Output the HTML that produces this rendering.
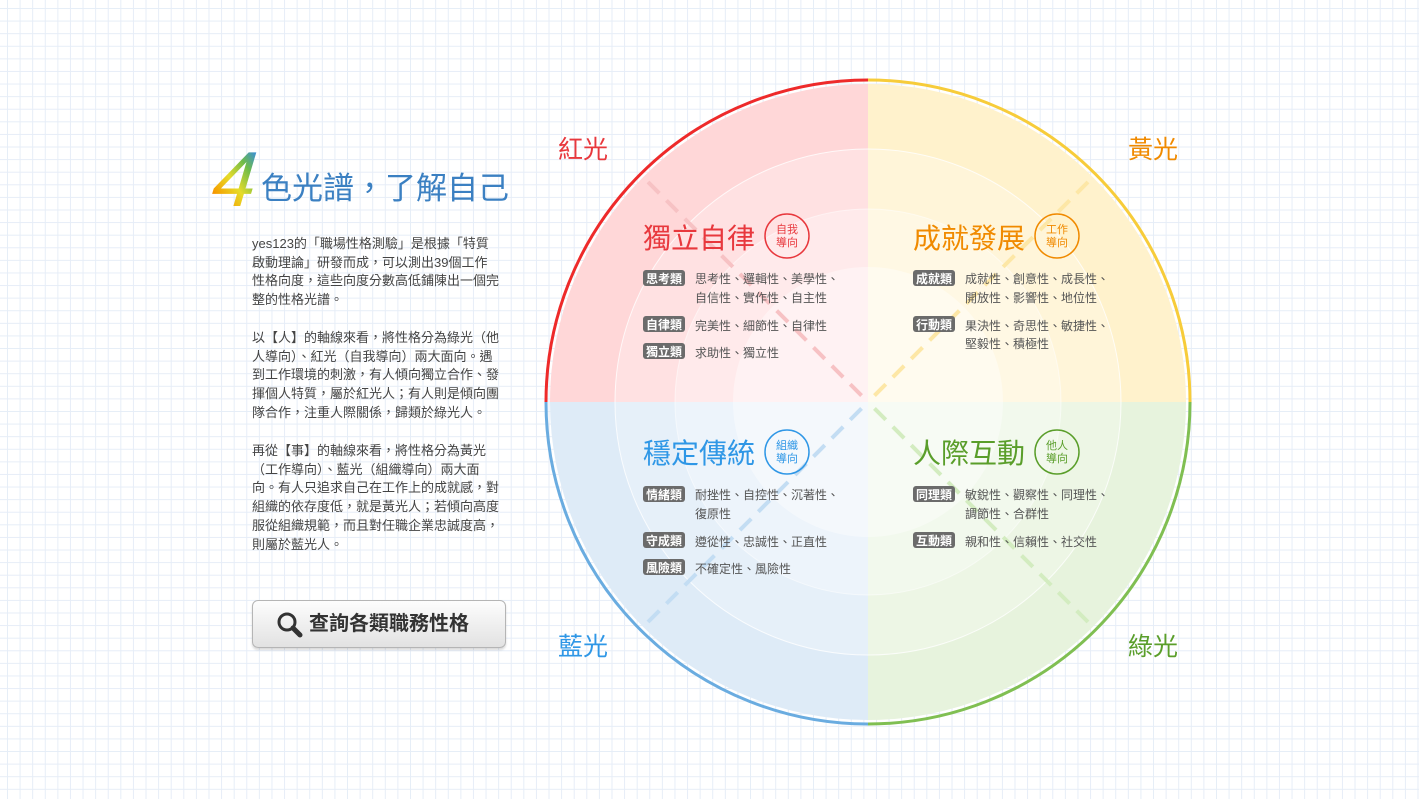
<!DOCTYPE html>
<html><head><meta charset="utf-8"><style>
html,body{margin:0;padding:0}
body{width:1419px;height:799px;overflow:hidden;position:relative;background-color:#fff;
background-image:linear-gradient(to right,#e6edf7 1px,transparent 1px),linear-gradient(to bottom,#e6edf7 1px,transparent 1px);
background-size:12.6px 12.6px;background-position:7px 8px;
font-family:"Liberation Sans","Noto Sans CJK TC",sans-serif;}
.txt{position:absolute;left:252px;width:262px;font-size:13px;line-height:18.7px;color:#444;}
.txt div{white-space:nowrap}
.btn{position:absolute;left:252px;top:600px;width:252px;height:46px;border:1px solid #b5b5b5;border-radius:6px;
background:linear-gradient(#fdfdfd,#e2e2e2);box-shadow:0 2px 2px rgba(0,0,0,.15);
font-size:20px;font-weight:bold;color:#333;line-height:46px;text-align:left;}
svg{position:absolute;left:0;top:0}
svg text{font-family:"Liberation Sans","Noto Sans CJK TC",sans-serif}
</style></head><body>
<svg width="1419" height="799">
<defs>
<linearGradient id="g4" x1="0" y1="1" x2="0.6" y2="0">
<stop offset="0" stop-color="#e81b1b"/><stop offset="0.3" stop-color="#f5a000"/><stop offset="0.55" stop-color="#e6dc2a"/><stop offset="0.8" stop-color="#6dbb4a"/><stop offset="1" stop-color="#3a8fd8"/></linearGradient>
<clipPath id="cc"><circle cx="868" cy="402" r="318"/></clipPath>
</defs>
<text x="212" y="206" font-size="78" font-style="italic" fill="url(#g4)" transform="skewX(-6) translate(20,0)">4</text>
<text x="261" y="199" font-size="31" fill="#3b80c2">色光譜，了解自己</text>
<g clip-path="url(#cc)">
<rect x="540" y="80" width="328" height="322" fill="#ffd7d8"/>
<rect x="868" y="80" width="330" height="322" fill="#fff2cc"/>
<rect x="540" y="402" width="328" height="330" fill="#deebf7"/>
<rect x="868" y="402" width="330" height="330" fill="#e7f3dd"/>
<circle cx="868" cy="402" r="253" fill="#fff" fill-opacity="0.25" stroke="#fff" stroke-opacity="0.8" stroke-width="1"/>
<circle cx="868" cy="402" r="193" fill="#fff" fill-opacity="0.3" stroke="#fff" stroke-opacity="0.5" stroke-width="1"/>
<circle cx="868" cy="402" r="135" fill="#fff" fill-opacity="0.4"/>
<g stroke-width="4" stroke-dasharray="16 10" fill="none">
<line x1="648" y1="182" x2="866" y2="400" stroke="#f7c2c4"/>
<line x1="1088" y1="182" x2="870" y2="400" stroke="#fde7a6"/>
<line x1="648" y1="622" x2="866" y2="404" stroke="#c3ddf3"/>
<line x1="1088" y1="622" x2="870" y2="404" stroke="#d3ecc0"/>
</g>
</g>
<g fill="none" stroke-width="3">
<path d="M546 402 A322 322 0 0 1 868 80" stroke="#ee2a2a"/>
<path d="M868 80 A322 322 0 0 1 1190 402" stroke="#f7cc3a"/>
<path d="M1190 402 A322 322 0 0 1 868 724" stroke="#80bf52"/>
<path d="M868 724 A322 322 0 0 1 546 402" stroke="#6aace0"/>
</g>
<text x="558" y="158" font-size="25" fill="#e8383d">紅光</text>
<text x="1128" y="158" font-size="25" fill="#f08a00">黃光</text>
<text x="558" y="655" font-size="25" fill="#2f97e6">藍光</text>
<text x="1128" y="655" font-size="25" fill="#5a9e2a">綠光</text>
<text x="643" y="248" font-size="28" fill="#e8383d">獨立自律</text>
<circle cx="787" cy="236" r="22" fill="none" stroke="#e8383d" stroke-width="1.5"/>
<text x="787" y="233" font-size="11" fill="#e8383d" text-anchor="middle">自我</text><text x="787" y="246" font-size="11" fill="#e8383d" text-anchor="middle">導向</text>
<text x="913" y="248" font-size="28" fill="#f08a00">成就發展</text>
<circle cx="1057" cy="236" r="22" fill="none" stroke="#f08a00" stroke-width="1.5"/>
<text x="1057" y="233" font-size="11" fill="#f08a00" text-anchor="middle">工作</text><text x="1057" y="246" font-size="11" fill="#f08a00" text-anchor="middle">導向</text>
<text x="643" y="463" font-size="28" fill="#2f97e6">穩定傳統</text>
<circle cx="787" cy="452" r="22" fill="none" stroke="#2f97e6" stroke-width="1.5"/>
<text x="787" y="449" font-size="11" fill="#2f97e6" text-anchor="middle">組織</text><text x="787" y="462" font-size="11" fill="#2f97e6" text-anchor="middle">導向</text>
<text x="913" y="463" font-size="28" fill="#5a9e2a">人際互動</text>
<circle cx="1057" cy="452" r="22" fill="none" stroke="#5a9e2a" stroke-width="1.5"/>
<text x="1057" y="449" font-size="11" fill="#5a9e2a" text-anchor="middle">他人</text><text x="1057" y="462" font-size="11" fill="#5a9e2a" text-anchor="middle">導向</text>
<g fill="#6b6b6b">
<rect x="643" y="270" width="42" height="16" rx="3"/><rect x="643" y="316" width="42" height="16" rx="3"/><rect x="643" y="343" width="42" height="16" rx="3"/>
<rect x="913" y="270" width="42" height="16" rx="3"/><rect x="913" y="316" width="42" height="16" rx="3"/>
<rect x="643" y="486" width="42" height="16" rx="3"/><rect x="643" y="532" width="42" height="16" rx="3"/><rect x="643" y="559" width="42" height="16" rx="3"/>
<rect x="913" y="486" width="42" height="16" rx="3"/><rect x="913" y="532" width="42" height="16" rx="3"/>
</g>
<g fill="#fff" font-size="12" font-weight="bold" text-anchor="middle">
<text x="664" y="283">思考類</text><text x="664" y="329">自律類</text><text x="664" y="356">獨立類</text>
<text x="934" y="283">成就類</text><text x="934" y="329">行動類</text>
<text x="664" y="499">情緒類</text><text x="664" y="545">守成類</text><text x="664" y="572">風險類</text>
<text x="934" y="499">同理類</text><text x="934" y="545">互動類</text>
</g>
<g fill="#555" font-size="12">
<text x="695" y="283">思考性、邏輯性、美學性、</text><text x="695" y="302">自信性、實作性、自主性</text>
<text x="695" y="330">完美性、細節性、自律性</text><text x="695" y="357">求助性、獨立性</text>
<text x="965" y="283">成就性、創意性、成長性、</text><text x="965" y="302">開放性、影響性、地位性</text>
<text x="965" y="330">果決性、奇思性、敏捷性、</text><text x="965" y="348">堅毅性、積極性</text>
<text x="695" y="499">耐挫性、自控性、沉著性、</text><text x="695" y="518">復原性</text>
<text x="695" y="546">遵從性、忠誠性、正直性</text><text x="695" y="573">不確定性、風險性</text>
<text x="965" y="499">敏銳性、觀察性、同理性、</text><text x="965" y="518">調節性、合群性</text>
<text x="965" y="546">親和性、信賴性、社交性</text>
</g>
</svg>
<div class="txt" style="top:235px">
<div>yes123的「職場性格測驗」是根據「特質</div><div>啟動理論」研發而成，可以測出39個工作</div><div>性格向度，這些向度分數高低鋪陳出一個完</div><div>整的性格光譜。</div></div>
<div class="txt" style="top:329px">
<div>以【人】的軸線來看，將性格分為綠光（他</div><div>人導向）、紅光（自我導向）兩大面向。遇</div><div>到工作環境的刺激，有人傾向獨立合作、發</div><div>揮個人特質，屬於紅光人；有人則是傾向團</div><div>隊合作，注重人際關係，歸類於綠光人。</div></div>
<div class="txt" style="top:442px">
<div>再從【事】的軸線來看，將性格分為黃光</div><div>（工作導向）、藍光（組織導向）兩大面</div><div>向。有人只追求自己在工作上的成就感，對</div><div>組織的依存度低，就是黃光人；若傾向高度</div><div>服從組織規範，而且對任職企業忠誠度高，</div><div>則屬於藍光人。</div></div>
<div class="btn"><svg width="30" height="30" style="position:absolute;left:22px;top:9px"><circle cx="12" cy="12" r="8" fill="none" stroke="#333" stroke-width="3"/><line x1="18" y1="18" x2="25" y2="25" stroke="#333" stroke-width="5" stroke-linecap="round"/></svg><span style="position:absolute;left:56px">查詢各類職務性格</span></div>
</body></html>
